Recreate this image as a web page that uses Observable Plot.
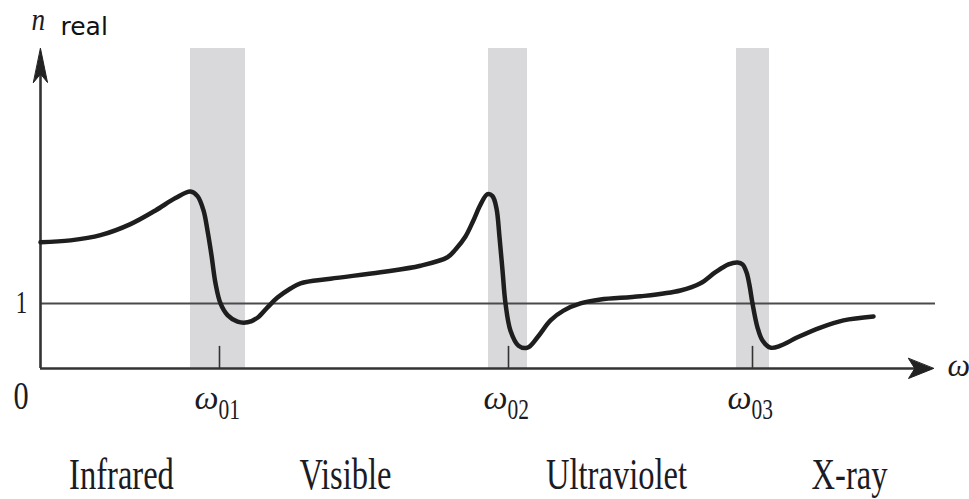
<!DOCTYPE html>
<html>
<head>
<meta charset="utf-8">
<script src="https://cdn.jsdelivr.net/npm/d3@7"></script>
<script src="https://cdn.jsdelivr.net/npm/@observablehq/plot@0.6"></script>
<style>
  html, body { margin: 0; padding: 0; background: #fff; overflow: hidden; }
  #chart svg { display: block; }
</style>
</head>
<body>
<div id="chart"></div>
<script>
// ---- data (ω in arbitrary units, n = real refractive index) ----
const curveOmega = [0, 0.30, 0.60, 0.90, 1.15, 1.35, 1.50, 1.57, 1.63, 1.67, 1.71, 1.75, 1.80, 1.87, 1.97, 2.07, 2.17, 2.27, 2.37, 2.50, 2.60, 2.90, 3.40, 3.80, 4.07, 4.15, 4.25, 4.33, 4.40, 4.47, 4.52, 4.56, 4.59, 4.62, 4.65, 4.70, 4.78, 4.87, 4.97, 5.10, 5.23, 5.40, 5.60, 6.00, 6.40, 6.60, 6.75, 6.88, 6.97, 7.02, 7.06, 7.09, 7.12, 7.17, 7.22, 7.30, 7.40, 7.57, 7.80, 8.03, 8.33];
const curveN     = [1.94, 1.97, 2.05, 2.22, 2.43, 2.62, 2.72, 2.65, 2.43, 2.12, 1.74, 1.31, 1.00, 0.82, 0.72, 0.71, 0.78, 0.94, 1.09, 1.23, 1.31, 1.38, 1.48, 1.58, 1.71, 1.83, 2.03, 2.28, 2.52, 2.68, 2.65, 2.46, 2.02, 1.51, 1.00, 0.58, 0.35, 0.32, 0.48, 0.74, 0.89, 1.00, 1.06, 1.11, 1.20, 1.31, 1.48, 1.60, 1.63, 1.60, 1.48, 1.28, 1.00, 0.63, 0.43, 0.32, 0.35, 0.48, 0.63, 0.74, 0.80];

const resonances      = [1.79, 4.68, 7.12];
const resonanceLabels = ["01", "02", "03"];
const bandStart       = [1.50, 4.48, 6.96];
const bandEnd         = [2.05, 4.87, 7.29];

const regionNames   = ["Infrared", "Visible", "Ultraviolet", "X-ray"];
const regionCenters = [0.81, 3.05, 5.76, 8.09];

const yTickValues = [0, 1];
const yTickLabels = ["0", "1"];

const xMax = 8.93;   // tip of the ω axis arrow
const yMax = 4.92;   // tip of the n axis arrow

// ---- tables built from the arrays ----
const curve = curveOmega.map((w, i) => ({w, n: curveN[i]}));
const bands = bandStart.map((s, i) => ({s, e: bandEnd[i]}));
const res = resonances.map((w, i) => ({w, sub: resonanceLabels[i]}));
const regions = regionNames.map((name, i) => ({name, w: regionCenters[i]}));
const yTicks = yTickValues.map((v, i) => ({v, label: yTickLabels[i]}));

const ink = "#1b1b24";
const serif = "'Liberation Serif', 'Times New Roman', serif";

// filled stealth arrowhead for Plot.vector
const arrowHead = {
  draw(context, l, r) {
    context.moveTo(0, -l);
    context.lineTo(r, 0);
    context.lineTo(0, -l * 0.25);
    context.lineTo(-r, 0);
    context.closePath();
  }
};

const svg = Plot.plot({
  width: 969,
  height: 499,
  marginLeft: 40,
  marginRight: 36,
  marginTop: 48,
  marginBottom: 131,
  x: {domain: [0, xMax], axis: null},
  y: {domain: [0, yMax], axis: null},
  style: {background: "#fff", overflow: "visible"},
  marks: [
    // absorption bands
    Plot.rect(bands, {x1: "s", x2: "e", y1: 0, y2: yMax, fill: "#d9d9dc"}),
    // n = 1 reference line
    Plot.ruleY([1], {x1: 0, x2: 8.95, stroke: "#4a4a4a", strokeWidth: 2}),
    // resonance tick marks
    Plot.ruleX(res, {x: "w", y1: 0, y2: 0.34, stroke: "#333", strokeWidth: 1.6}),
    // axes
    Plot.ruleY([0], {x1: 0, x2: xMax - 0.12, stroke: "#333", strokeWidth: 2.6}),
    Plot.ruleX([0], {y1: 0, y2: yMax - 0.3, stroke: "#333", strokeWidth: 2.6}),
    Plot.vector([{x: xMax, y: 0}], {x: "x", y: "y", rotate: 90, length: 25, r: 10, anchor: "end", shape: arrowHead, fill: "#222", stroke: "#222", strokeWidth: 1}),
    Plot.vector([{x: 0, y: yMax}], {x: "x", y: "y", rotate: 0, length: 34, r: 7, anchor: "end", shape: arrowHead, fill: "#222", stroke: "#222", strokeWidth: 1}),
    // dispersion curve
    Plot.line(curve, {x: "w", y: "n", curve: "catmull-rom", stroke: "#1e1e1e", strokeWidth: 4.5, strokeLinecap: "round"}),
    // resonance labels ω_0j
    Plot.text(res, {x: "w", y: -0.63, text: () => "ω", textAnchor: "end", lineAnchor: "bottom", dx: -1, fontFamily: serif, fontStyle: "italic", fontSize: 34, fill: ink}),
    Plot.text(res, {x: "w", y: -0.77, text: "sub", textAnchor: "start", lineAnchor: "bottom", dx: -1, fontFamily: serif, fontSize: 29, fill: ink}),
    // ω axis label (at the right edge, as in the reference)
    Plot.text(["ω"], {x: 9.07, y: -0.11, text: d => d, textAnchor: "start", lineAnchor: "bottom", fontFamily: serif, fontStyle: "italic", fontSize: 32, fill: ink}),
    // y tick labels
    Plot.text(yTicks.slice(0, 1), {x: -0.195, y: -0.62, text: "label", textAnchor: "middle", lineAnchor: "bottom", fontFamily: serif, fontSize: 41, fill: ink}),
    Plot.text(yTicks.slice(1), {x: -0.19, y: d => d.v - 0.15, text: "label", textAnchor: "middle", lineAnchor: "bottom", fontFamily: serif, fontSize: 31, fill: ink}),
    // y axis label n_real
    Plot.text(["n"], {x: -0.09, y: 5.20, text: d => d, textAnchor: "start", lineAnchor: "bottom", fontFamily: serif, fontStyle: "italic", fontSize: 32, fill: ink}),
    Plot.text(["real"], {x: 0.20, y: 5.12, text: d => d, textAnchor: "start", lineAnchor: "bottom", fontFamily: "'DejaVu Sans', sans-serif", fontSize: 25, fill: "#111"}),
    // spectral region labels
    Plot.text(regions, {x: "w", y: -1.86, text: "name", textAnchor: "middle", lineAnchor: "bottom", fontFamily: serif, fontSize: 44, fill: ink})
  ]
});

// condense the serif labels horizontally, as in the reference typesetting
const condensed = new Set([...regionNames, ...resonanceLabels, ...yTickLabels, "n"]);
d3.select(svg).selectAll("text").each(function () {
  if (!condensed.has(this.textContent)) return;
  const s = this.textContent === "n" ? 0.85 : 0.74;
  const t = this.getAttribute("transform");
  if (t) {
    this.setAttribute("transform", `${t} scale(${s},1)`);
  } else {
    const x = +this.getAttribute("x") || 0, y = +this.getAttribute("y") || 0;
    this.setAttribute("transform", `translate(${x},${y}) scale(${s},1) translate(${-x},${-y})`);
  }
});

document.getElementById("chart").appendChild(svg);
</script>
</body>
</html>
